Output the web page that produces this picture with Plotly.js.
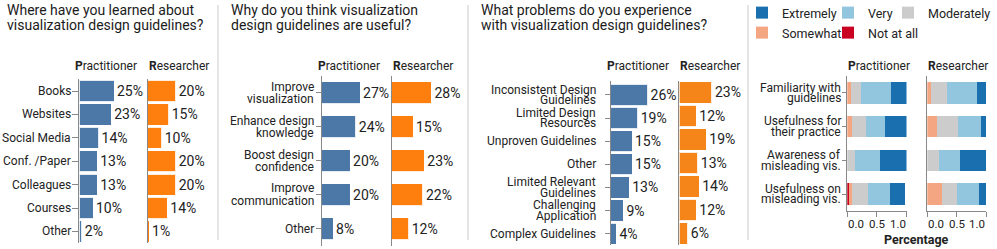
<!DOCTYPE html>
<html><head><meta charset="utf-8">
<script src="https://cdn.plot.ly/plotly-3.0.1.min.js"></script>
<style>html,body{margin:0;padding:0;background:#fff;}#chart{width:997px;height:249px;}</style>
</head><body><div id="chart"></div>
<script>
// ---------- DATA ----------
const sourceCategories = ['Books','Websites','Social Media','Conf. /Paper','Colleagues','Courses','Other'];
const sourcePractitioner = [25,23,14,13,13,10,2];
const sourceResearcher = [20,15,10,20,20,14,1];

const usefulCategories = ['Improve\nvisualization','Enhance design\nknowledge','Boost design\nconfidence','Improve\ncommunication','Other'];
const usefulPractitioner = [27,24,20,20,8];
const usefulResearcher = [28,15,23,22,12];

const problemCategories = ['Inconsistent Design\nGuidelines','Limited Design\nResources','Unproven Guidelines','Other','Limited Relevant\nGuidelines','Challenging\nApplication','Complex Guidelines'];
const problemPractitioner = [26,19,15,15,13,9,4];
const problemResearcher = [23,12,19,13,14,12,6];

const ratingCategories = ['Familiarity with\nguidelines','Usefulness for\ntheir practice','Awareness of\nmisleading vis.','Usefulness on\nmisleading vis.'];
const ratingLevels = ['Not at all','Somewhat','Moderately','Very','Extremely'];
const practNotAtAll   = [0, 0, 0, 0.03];
const practSomewhat   = [0.07, 0.08, 0, 0.05];
const practModerately = [0.155, 0.23, 0.135, 0.27];
const practVery       = [0.505, 0.33, 0.42, 0.365];
const practExtremely  = [0.27, 0.36, 0.445, 0.26];
const resNotAtAll     = [0, 0, 0, 0];
const resSomewhat     = [0.06, 0.165, 0, 0.25];
const resModerately   = [0.275, 0.365, 0.2, 0.25];
const resVery         = [0.505, 0.385, 0.357, 0.386];
const resExtremely    = [0.16, 0.085, 0.443, 0.114];
const ratingTicks = [0, 0.5, 1];
const ratingTickLabels = ['0.0', '0.5', '1.0'];

const titles = [
  ['Where have you learned about','visualization design guidelines?'],
  ['Why do you think visualization','design guidelines are useful?'],
  ['What problems do you experience','with visualization design guidelines?']
];

// ---------- LAYOUT HELPERS ----------
const W = 997, H = 249;
const fx = p => p / W;
const fy = p => 1 - p / H;
const FONT = 'Roboto, "Noto Sans", sans-serif';
const TXT = '#222';
const AXC = '#888';
const levelColors = ['#ca0020','#f4a582','#cccccc','#92c5de','#1a6faf'];
// one legend box per rating level, placed like the reference's 3+2 grid (layout only)
const levelLegend = ['legend5','legend4','legend3','legend2','legend'];
const legendPos = {legend:[742,13], legend2:[828,13], legend3:[888,13], legend4:[742,33], legend5:[828,33]};

const panels = [
  {cats: sourceCategories, p: sourcePractitioner, r: sourceResearcher, pDom:[79,145], rDom:[147.7,215], yDom:[79.3,243.2], scale:1.40, width:0.91, cP:'#4c78a8', cR:'#ff7f0e', gap:6, lineGap:11, ticklen:6, titleX:5, hShift:-6},
  {cats: usefulCategories, p: usefulPractitioner, r: usefulResearcher, pDom:[321.7,389], rDom:[391.7,465], yDom:[76,245.5], scale:1.42, width:0.65, cP:'#4c78a8', cR:'#ff7f0e', gap:5.7, lineGap:12.5, ticklen:5, titleX:229, hShift:-6},
  {cats: problemCategories, p: problemPractitioner, r: problemResearcher, pDom:[610.7,677], rDom:[679.3,745], yDom:[80.7,245.2], scale:1.42, width:0.92, cP:'#4c78a8', cR:'#f58518', gap:12.7, lineGap:10.5, ticklen:5, titleX:479, hShift:-6}
];

const data = [];
const layout = {
  width: W, height: H,
  margin: {l:0, r:0, t:0, b:0, pad:0, autoexpand:false},
  paper_bgcolor: '#fff', plot_bgcolor: '#fff',
  font: {family: FONT, color: TXT, size: 12},
  barmode: 'stack',
  showlegend: true,
  annotations: [],
  shapes: []
};
Object.keys(legendPos).forEach(k => {
  layout[k] = {orientation:'h', xanchor:'left', yanchor:'middle', x: fx(legendPos[k][0]), y: fy(legendPos[k][1]),
    font:{size:12.5, color:TXT}, bgcolor:'rgba(0,0,0,0)', itemclick:false, itemdoubleclick:false};
});

function hiddenX(dom, range, yname) {
  return {domain:[fx(dom[0]), fx(dom[1])], range: range, anchor: yname, fixedrange:true,
          showline:false, showgrid:false, zeroline:false, showticklabels:false, ticks:''};
}
function yAxis(dom, xname, cats, withTicks, ticklen) {
  return {domain:[fy(dom[1]), fy(dom[0])], anchor: xname, type:'category',
          categoryorder:'array', categoryarray: cats, autorange:'reversed', fixedrange:true,
          showline:true, linecolor:AXC, linewidth:1, showgrid:false, zeroline:false,
          showticklabels:false, ticks: withTicks ? 'outside' : '', ticklen: ticklen, tickcolor:AXC, tickwidth:1};
}
function axName(n, kind) { return n === 1 ? kind : kind + n; }
function layoutKey(n, kind) { return n === 1 ? kind + 'axis' : kind + 'axis' + n; }

function addCategoryLabels(n, cats, gap, lineGap) {
  cats.forEach((c, j) => {
    const lines = c.split('\n');
    lines.forEach((ln, k) => {
      layout.annotations.push({
        xref: axName(n,'x') + ' domain', x: 0, xanchor: 'right', xshift: -gap,
        yref: axName(n,'y'), y: j, yanchor: 'middle', yshift: ((lines.length - 1) / 2 - k) * lineGap,
        text: ln, showarrow: false, font: {size: 12, color: TXT}
      });
    });
  });
}
function addHeader(n, who, shift) {
  layout.annotations.push({
    xref: axName(n,'x') + ' domain', x: 0, xanchor: 'left', xshift: shift,
    yref: 'paper', y: fy(66), yanchor: 'middle',
    text: '<b>' + who[0] + '</b>' + who.slice(1), showarrow: false, font: {size: 12, color: TXT}
  });
}

panels.forEach((pn, i) => {
  const nP = 2 * i + 1, nR = 2 * i + 2;
  [[nP, pn.p, pn.pDom, pn.cP, true], [nR, pn.r, pn.rDom, pn.cR, false]].forEach(([n, vals, dom, col, isP]) => {
    data.push({
      type: 'bar', orientation: 'h', x: vals, y: pn.cats, width: pn.width,
      xaxis: axName(n,'x'), yaxis: axName(n,'y'),
      marker: {color: col, line: {color: 'rgba(255,255,255,0.85)', width: 1}},
      text: vals.map(v => v + '%'), textposition: 'outside', cliponaxis: false, constraintext: 'none',
      textfont: {size: 14, color: TXT}, hoverinfo: 'skip', showlegend: false
    });
    layout[layoutKey(n,'x')] = hiddenX(dom, [0, (dom[1] - dom[0]) / pn.scale], axName(n,'y'));
    layout[layoutKey(n,'y')] = yAxis(pn.yDom, axName(n,'x'), pn.cats, isP, pn.ticklen);
    addHeader(n, isP ? 'Practitioner' : 'Researcher', isP ? pn.hShift : -1);
  });
  addCategoryLabels(nP, pn.cats, pn.gap, pn.lineGap);
  titles[i].forEach((t, k) => {
    layout.annotations.push({xref:'paper', x: fx(pn.titleX), xanchor:'left', yref:'paper', y: fy(9.5 + k * 15.5),
      yanchor:'middle', text: t, showarrow:false, font:{size:14, color:'#1b1b1b'}});
  });
});

// ---------- PANEL 4 : stacked ratings ----------
const practSeries = [practNotAtAll, practSomewhat, practModerately, practVery, practExtremely];
const resSeries = [resNotAtAll, resSomewhat, resModerately, resVery, resExtremely];
const p4 = {pDom:[847.3,906.5], rDom:[927.3,986], yDom:[76,211], width:0.63};

[[7, practSeries, p4.pDom, true], [8, resSeries, p4.rDom, false]].forEach(([n, series, dom, isP]) => {
  series.forEach((vals, li) => {
    data.push({
      type: 'bar', orientation: 'h', x: vals, y: ratingCategories, width: p4.width, name: ratingLevels[li],
      xaxis: axName(n,'x'), yaxis: axName(n,'y'),
      marker: {color: levelColors[li], line: {width: 0}},
      hoverinfo: 'skip', showlegend: isP, legend: levelLegend[li]
    });
  });
  layout[layoutKey(n,'x')] = {domain:[fx(dom[0]), fx(dom[1])], range:[0,1], anchor: axName(n,'y'), fixedrange:true,
    showline:true, linecolor:AXC, linewidth:1, showgrid:false, zeroline:false,
    ticks:'outside', ticklen:5, tickcolor:AXC, tickvals: ratingTicks, showticklabels:false};
  // flush tick labels: first aligned left, last aligned right, others centred on their tick
  ratingTicks.forEach((tv, k) => {
    const last = ratingTicks.length - 1;
    layout.annotations.push({xref: axName(n,'x'), x: tv, xanchor: k === 0 ? 'left' : (k === last ? 'right' : 'center'),
      xshift: k === 0 ? -1 : (k === last ? 1 : 0),
      yref:'paper', y: fy(224), yanchor:'middle', text: ratingTickLabels[k], showarrow:false,
      font:{size:11.5, color:TXT}});
  });
  layout[layoutKey(n,'y')] = yAxis(p4.yDom, axName(n,'x'), ratingCategories, isP, 4);
  addHeader(n, isP ? 'Practitioner' : 'Researcher', -1);
});
addCategoryLabels(7, ratingCategories, 4.6, 10.5);
layout.annotations.push({xref:'paper', x: fx(916), xanchor:'center', yref:'paper', y: fy(239), yanchor:'middle',
  text:'<b>Percentage</b>', showarrow:false, font:{size:12.5, color:TXT}});

// dividers
[218, 468, 748].forEach(px => {
  layout.shapes.push({type:'line', xref:'paper', yref:'paper', x0: fx(px), x1: fx(px), y0: fy(240), y1: fy(5),
    line:{color:'#dddddd', width:1.5}});
});

Plotly.newPlot('chart', data, layout, {staticPlot: true, displayModeBar: false});
</script>
</body></html>
